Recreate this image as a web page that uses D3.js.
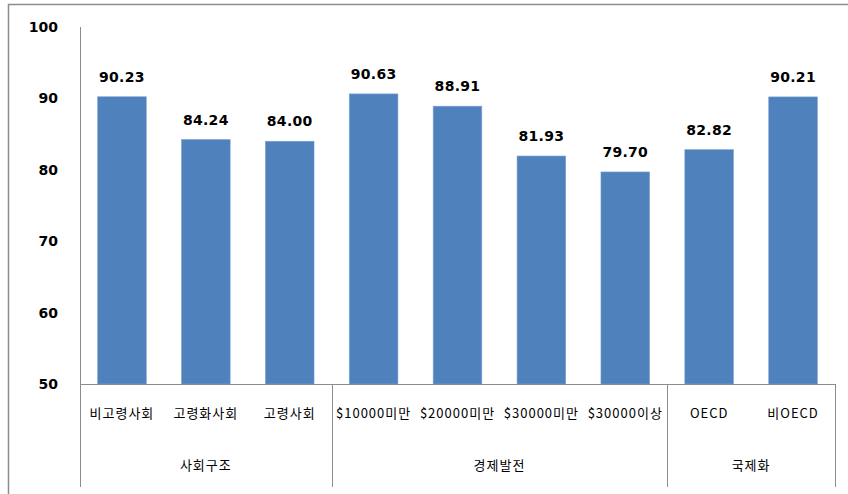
<!DOCTYPE html>
<html>
<head>
<meta charset="utf-8">
<script src="https://cdn.jsdelivr.net/npm/d3@7"></script>
<style>
  body { margin: 0; background: #fff; }
  svg { display: block; }
  text { fill: #000; }
</style>
</head>
<body>
<div id="chart"></div>
<script>
// data
const categories = ['비고령사회', '고령화사회', '고령사회', '$10000미만', '$20000미만', '$30000미만', '$30000이상', 'OECD', '비OECD'];
const values = [90.23, 84.24, 84.00, 90.63, 88.91, 81.93, 79.70, 82.82, 90.21];
const groupNames = ['사회구조', '경제발전', '국제화'];
const groupSizes = [3, 4, 2];
const yTicks = [50, 60, 70, 80, 90, 100];

let width = 848,
	height = 494;

let svg = d3.select('#chart')
	.append('svg')
		.attr('width', width)
		.attr('height', height);

// outer frame (top + left only are visible)
svg.append('path')
	.attr('d', 'M8.5,494 V4.5 H848')
	.attr('fill', 'none')
	.attr('stroke', '#8c8c8c')
	.attr('stroke-width', 1.5);

let x = d3.scaleBand()
	.domain(categories)
	.range([80, 835])
	.paddingInner(0.42)
	.paddingOuter(0.21);

let y = d3.scaleLinear()
	.domain([50, 100])
	.range([384, 27]);

let axisColor = '#8c8c8c';
let groupBottom = 487;

// y axis line
svg.append('line')
	.attr('x1', 80.5).attr('x2', 80.5)
	.attr('y1', y(100)).attr('y2', groupBottom)
	.attr('stroke', axisColor);

// y tick labels
svg.selectAll('.ytick')
	.data(yTicks)
	.enter()
	.append('text')
		.attr('class', 'ytick')
		.attr('x', 58)
		.attr('y', d => y(d))
		.attr('dy', '0.35em')
		.attr('text-anchor', 'end')
		.style('font', 'bold 14px "DejaVu Sans", sans-serif')
		.text(d => d);

// bars
svg.selectAll('.bar')
	.data(values)
	.enter()
	.append('rect')
		.attr('class', 'bar')
		.attr('x', (d, i) => x(categories[i]))
		.attr('y', d => y(d))
		.attr('width', x.bandwidth())
		.attr('height', d => y(50) - y(d))
		.attr('fill', '#4f81bd')
		.attr('stroke', '#7ea3d3')
		.attr('stroke-width', 0.6);

// value labels
svg.selectAll('.val')
	.data(values)
	.enter()
	.append('text')
		.attr('class', 'val')
		.attr('x', (d, i) => x(categories[i]) + x.bandwidth() / 2)
		.attr('y', d => y(d) - 15)
		.attr('text-anchor', 'middle')
		.style('font', 'bold 14px "DejaVu Sans", sans-serif')
		.style('letter-spacing', '0.3px')
		.text(d => d.toFixed(2));

// x axis baseline
svg.append('line')
	.attr('x1', 80).attr('x2', 835)
	.attr('y1', y(50) + 0.5).attr('y2', y(50) + 0.5)
	.attr('stroke', axisColor);

// category labels
svg.selectAll('.cat')
	.data(categories)
	.enter()
	.append('text')
		.attr('class', 'cat')
		.attr('x', d => x(d) + x.bandwidth() / 2)
		.attr('y', 413)
		.attr('dy', '0.35em')
		.attr('text-anchor', 'middle')
		.style('font', '13px "Noto Sans CJK KR", sans-serif')
		.style('letter-spacing', '1px')
		.text(d => d);

// group separators and labels
let step = x.step();
let start = 0;
let groups = groupNames.map((name, i) => {
	let g = { name: name, from: start, to: start + groupSizes[i] };
	start += groupSizes[i];
	return g;
});

let edges = [0].concat(groups.map(g => g.to));
svg.selectAll('.sep')
	.data(edges)
	.enter()
	.append('line')
		.attr('class', 'sep')
		.attr('x1', d => Math.round(80 + d * step) + 0.5)
		.attr('x2', d => Math.round(80 + d * step) + 0.5)
		.attr('y1', y(50))
		.attr('y2', groupBottom)
		.attr('stroke', axisColor);

svg.selectAll('.grp')
	.data(groups)
	.enter()
	.append('text')
		.attr('class', 'grp')
		.attr('x', g => 80 + (g.from + g.to) / 2 * step)
		.attr('y', 465)
		.attr('dy', '0.35em')
		.attr('text-anchor', 'middle')
		.style('font', '13px "Noto Sans CJK KR", sans-serif')
		.style('letter-spacing', '1px')
		.text(g => g.name);
</script>
</body>
</html>
